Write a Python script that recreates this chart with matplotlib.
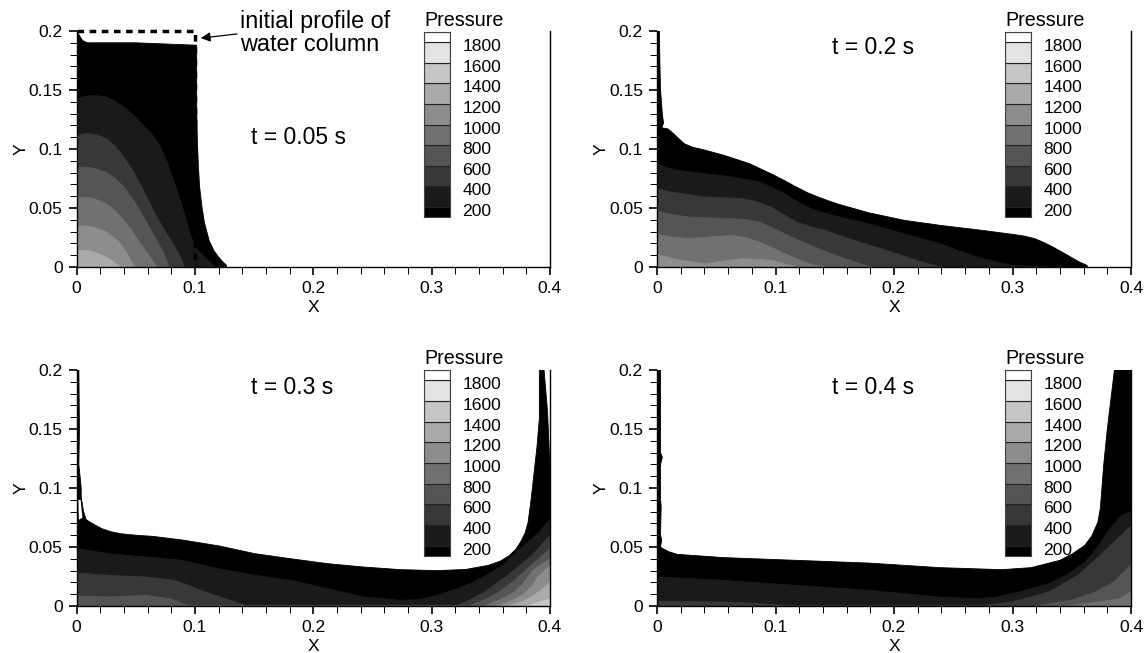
import numpy as np
import matplotlib
matplotlib.use('Agg')
import matplotlib.pyplot as plt
from matplotlib.ticker import MultipleLocator

plt.rcParams['font.family'] = ['Liberation Sans', 'DejaVu Sans']

W, H = 1145, 653

# colour legend
levels = [200, 400, 600, 800, 1000, 1200, 1400, 1600, 1800]
edges = [100, 200, 400, 600, 800, 1000, 1200, 1400, 1600, 1800, 1900]
grays = ['#000000', '#1a1a1a', '#383838', '#555555', '#717171',
         '#8d8d8d', '#aaaaaa', '#c6c6c6', '#e3e3e3', '#ffffff']

x_ticks = [0, 0.1, 0.2, 0.3, 0.4]
x_labels = ['0', '0.1', '0.2', '0.3', '0.4']
y_ticks = [0, 0.05, 0.1, 0.15, 0.2]
y_labels = ['0', '0.05', '0.1', '0.15', '0.2']

# initial water column
column_x = [0, 0.1, 0.1]
column_y = [0.2, 0.2, 0]

# t = 0.05 s, contour outlines (x, y)
t05_surface = [(0, .2), (.002, .197), (.005, .192), (.008, .1905), (.01, .19), (.05, .19), (.1, .188), (.1015, .188),
               (.1015, .165), (.1015, .141), (.102, .11), (.103, .085), (.104, .068), (.106, .051), (.108, .038),
               (.112, .0226), (.116, .014), (.12, .0085), (.124, .004), (.1268, .0014), (.1268, 0)]
t05_400 = [(0, .141), (.004, .144), (.009, .145), (.017, .1453), (.025, .144), (.033, .1405), (.04, .1356), (.05, .127),
           (.058, .1186), (.065, .111), (.071, .1017), (.077, .088), (.083, .0706), (.088, .056), (.092, .042),
           (.095, .032), (.098, .0226), (.102, .015), (.108, .0085), (.113, .004), (.117, 0)]
t05_600 = [(0, .11), (.004, .1125), (.009, .113), (.017, .112), (.025, .109), (.033, .102), (.04, .093), (.048, .081),
           (.055, .068), (.062, .054), (.068, .042), (.075, .03), (.083, .017), (.088, .008), (.091, 0)]
t05_800 = [(0, .0833), (.004, .0845), (.009, .0847), (.017, .083), (.025, .0805), (.033, .075), (.04, .0678),
           (.048, .057), (.055, .045), (.062, .033), (.068, .0226), (.074, .011), (.078, 0)]
t05_1000 = [(0, .058), (.004, .059), (.009, .059), (.017, .057), (.025, .0537), (.033, .0475), (.04, .0395),
            (.046, .032), (.052, .0226), (.06, .0115), (.068, 0)]
t05_1200 = [(0, .034), (.005, .0348), (.009, .0347), (.017, .033), (.025, .0297), (.031, .0255), (.037, .0198),
            (.043, .011), (.049, 0)]
t05_1400 = [(0, .014), (.006, .0142), (.012, .0136), (.018, .0115), (.025, .0085), (.031, .0045), (.037, 0)]

# t = 0.2 s
t2_surface = [(0, .2), (.002, .2), (.0025, .17), (.003, .15), (.0045, .13), (.0055, .122), (.004, .118),
              (.0094, .117), (.015, .112), (.023, .1045), (.03, .1015), (.038, .0997), (.0567, .0946), (.078, .0876),
              (.099, .0777), (.108, .073), (.1176, .0678), (.127, .063), (.136, .0593), (.145, .056), (.154, .053),
              (.1785, .046), (.209, .0395), (.239, .0353), (.27, .0316), (.30, .0277), (.31, .0262), (.319, .024),
              (.327, .0205), (.334, .017), (.342, .0125), (.349, .0085), (.356, .0045), (.363, .0014), (.363, 0)]
t2_400 = [(0, .0876), (.008, .0845), (.017, .082), (.041, .079), (.063, .0763), (.087, .072), (.098, .067), (.108, .062),
          (.119, .055), (.13, .0494), (.142, .0455), (.154, .0424), (.1785, .0367), (.209, .028), (.239, .0198),
          (.255, .0135), (.27, .0085), (.285, .0045), (.30, .0014), (.33, 0)]
t2_600 = [(0, .0664), (.011, .0636), (.041, .0593), (.072, .058), (.085, .055), (.096, .051), (.107, .0445), (.1176, .038),
          (.13, .034), (.142, .031), (.166, .0226), (.194, .014), (.224, .004), (.24, 0)]
t2_800 = [(0, .0475), (.012, .0445), (.026, .0424), (.063, .041), (.076, .04), (.087, .038), (.098, .033), (.108, .028),
          (.12, .0225), (.133, .017), (.148, .011), (.163, .0056), (.18, 0)]
t2_1000 = [(0, .028), (.012, .0255), (.026, .024), (.045, .0255), (.063, .0268), (.076, .0245), (.087, .021),
           (.098, .016), (.108, .0113), (.12, .006), (.133, .0014), (.142, 0)]
t2_1200 = [(0, .0107), (.01, .008), (.02, .0056), (.041, .0028), (.056, .005), (.072, .007), (.085, .0065), (.096, .0056),
           (.106, .003), (.1176, 0)]

# t = 0.3 s
t3_surface = [(0, .2), (.002, .2), (.0025, .15), (.002, .12), (.004, .1), (.004, .092), (.006, .08), (.008, .0735),
              (.009, .0726), (.015, .069), (.0215, .0655), (.029, .063), (.037, .0613), (.05, .06), (.0646, .059),
              (.089, .056), (.12, .051), (.151, .0443), (.1815, .04), (.212, .0359), (.243, .033), (.274, .0308),
              (.3046, .03), (.329, .031), (.348, .0345), (.358, .038), (.366, .043), (.371, .048), (.375, .054),
              (.379, .062), (.3815, .071), (.384, .09), (.386, .108), (.389, .135), (.391, .159), (.391, .2), (.395, .2),
              (.398, .164), (.4, .116), (.4, 0)]
t3_gap = [(.0015, .09), (.0035, .09), (.005, .075), (.002, .073)]
t3_400 = [(0, .0486), (.0277, .0443), (.0585, .0415), (.089, .0387), (.12, .0316), (.151, .026), (.1815, .0217),
          (.212, .0147), (.243, .0076), (.274, .0048), (.29, .0055), (.3046, .009), (.32, .014), (.335, .02), (.348, .027),
          (.36, .0345), (.375, .0486), (.391, .0627), (.4, .074), (.4, 0)]
t3_600 = [(0, .028), (.0277, .026), (.0585, .0246), (.083, .0217), (.095, .0175), (.105, .0133), (.126, .006), (.145, 0),
          (.32, 0), (.333, .0055), (.345, .012), (.366, .0274), (.385, .043), (.4, .06), (.4, 0)]
t3_800 = [(0, .0085), (.0277, .0076), (.0585, .009), (.08, .006), (.095, 0), (.332, 0), (.345, .0055), (.357, .012),
          (.368, .02), (.378, .029), (.4, .0486), (.4, 0)]
t3_1000 = [(.345, 0), (.358, .0055), (.37, .012), (.378, .02), (.385, .03), (.4, .04), (.4, 0)]
t3_1200 = [(.355, 0), (.368, .0045), (.378, .01), (.385, .017), (.39, .025), (.4, .034), (.4, 0)]
t3_1400 = [(.365, 0), (.376, .0035), (.385, .008), (.393, .014), (.4, .02), (.4, 0)]
t3_1600 = [(.38, 0), (.39, .003), (.4, .006), (.4, 0)]

# t = 0.4 s
t4_surface = [(0, .2), (.003, .2), (.003, .13), (.0045, .126), (.003, .12), (.003, .09), (.0035, .085), (.003, .06),
              (.004, .056), (.003, .05), (.005, .0486), (.01, .046), (.017, .0438), (.0567, .041), (.1176, .0387),
              (.1785, .0364), (.239, .0325), (.291, .0308), (.3156, .0325), (.34, .0387), (.351, .0445), (.361, .0514),
              (.367, .0595), (.372, .071), (.374, .082), (.375, .094), (.377, .12), (.38, .15), (.383, .175),
              (.386, .2), (.4, .2), (.4, 0)]
t4_400 = [(0, .0246), (.0567, .0217), (.1176, .0175), (.1785, .0133), (.239, .0076), (.27, .006), (.285, .0075), (.30, .0105),
          (.331, .019), (.347, .027), (.361, .037), (.372, .05), (.38, .0627), (.392, .0768), (.4, .08), (.4, 0)]
t4_600 = [(0, .004), (.0567, .0034), (.087, .002), (.1176, 0), (.27, 0), (.30, .0034), (.331, .012), (.355, .026),
          (.374, .043), (.4, .068), (.4, 0)]
t4_800 = [(.32, 0), (.35, .005), (.37, .012), (.385, .02), (.4, .035), (.4, 0)]
t4_1000 = [(.345, 0), (.37, .003), (.39, .006), (.4, .012), (.4, 0)]

panels = [
    ('t = 0.05 s', 0.147, 0.11, [t05_surface, t05_400, t05_600, t05_800, t05_1000, t05_1200, t05_1400]),
    ('t = 0.2 s', 0.148, 0.1856, [t2_surface, t2_400, t2_600, t2_800, t2_1000, t2_1200]),
    ('t = 0.3 s', 0.147, 0.1853, [t3_surface, t3_400, t3_600, t3_800, t3_1000, t3_1200, t3_1400, t3_1600]),
    ('t = 0.4 s', 0.148, 0.1853, [t4_surface, t4_400, t4_600, t4_800, t4_1000]),
]
# pixel boxes: left, right, top, bottom
boxes = [(76.5, 550, 31, 267), (657, 1131, 31, 267), (76.5, 550, 370, 606), (657, 1131, 370, 606)]
bar_boxes = [(424, 450, 32, 217), (1005, 1031, 32, 217), (424, 450, 370, 556), (1005, 1031, 370, 556)]


def add_axes_px(fig, box):
    left, right, top, bottom = box
    return fig.add_axes([left / W, 1 - bottom / H, (right - left) / W, (bottom - top) / H])


fig = plt.figure(figsize=(W / 100, H / 100), dpi=100)

for i, (label, tx, ty, bands) in enumerate(panels):
    ax = add_axes_px(fig, boxes[i])
    for band, color in zip(bands, grays):
        xs, ys = np.array(band).T
        # close the outline along the floor
        xs = np.append(xs, xs[0])
        ys = np.append(ys, 0)
        ax.fill(xs, ys, facecolor=color, edgecolor=color, linewidth=0.6, zorder=2)
    if i == 2:
        gx, gy = np.array(t3_gap).T
        ax.fill(gx, gy, facecolor='white', edgecolor='none', zorder=2.5)

    ax.set_xlim(0, 0.4)
    ax.set_ylim(0, 0.2)
    ax.spines['top'].set_visible(False)
    for s in ['left', 'right', 'bottom']:
        ax.spines[s].set_linewidth(1.0)
        ax.spines[s].set_zorder(3)
    ax.set_xticks(x_ticks, x_labels)
    ax.set_yticks(y_ticks, y_labels)
    ax.xaxis.set_minor_locator(MultipleLocator(0.02))
    ax.yaxis.set_minor_locator(MultipleLocator(0.01))
    ax.tick_params(which='major', direction='out', length=6, width=1.2, labelsize=12.6, pad=4)
    ax.tick_params(which='minor', direction='out', length=5, width=0.7)
    ax.set_xlabel('X', fontsize=12.6, labelpad=3)
    ax.set_ylabel('Y', fontsize=12.6, labelpad=0)
    ax.text(tx, ty, label, fontsize=16.5, ha='left', va='center')

    if i == 0:
        ax.plot(column_x, column_y, color='black', lw=2.5, ls=(0, (1.9, 1.6)), dash_capstyle='butt',
                clip_on=False, zorder=4)
        ax.annotate('', xy=(0.105, 0.194), xytext=(0.1356, 0.1975),
                    arrowprops=dict(arrowstyle='-|>', color='black', lw=0.9, shrinkA=0, shrinkB=0, mutation_scale=14))
        ax.text(0.1385, 0.198, 'initial profile of\nwater column', fontsize=16.8, ha='left', va='center',
                linespacing=1.0, clip_on=False)

    # colour legend next to each panel
    cax = add_axes_px(fig, bar_boxes[i])
    for j, color in enumerate(grays):
        cax.barh(edges[j], 1, height=edges[j + 1] - edges[j], align='edge', color=color,
                 edgecolor='#222222', linewidth=0.8)
    cax.set_xlim(0, 1)
    cax.set_ylim(edges[0], edges[-1])
    cax.set_xticks([])
    cax.yaxis.tick_right()
    cax.set_yticks([v - 30 for v in levels], [str(v) for v in levels])
    cax.tick_params(axis='y', length=0, pad=9, labelsize=12.6)
    for s in cax.spines.values():
        s.set_linewidth(0.8)
        s.set_color('#444444')
    cax.text(0, 1.012, 'Pressure', transform=cax.transAxes, fontsize=14.2, ha='left', va='bottom')

fig.savefig('out.png', dpi=100)
